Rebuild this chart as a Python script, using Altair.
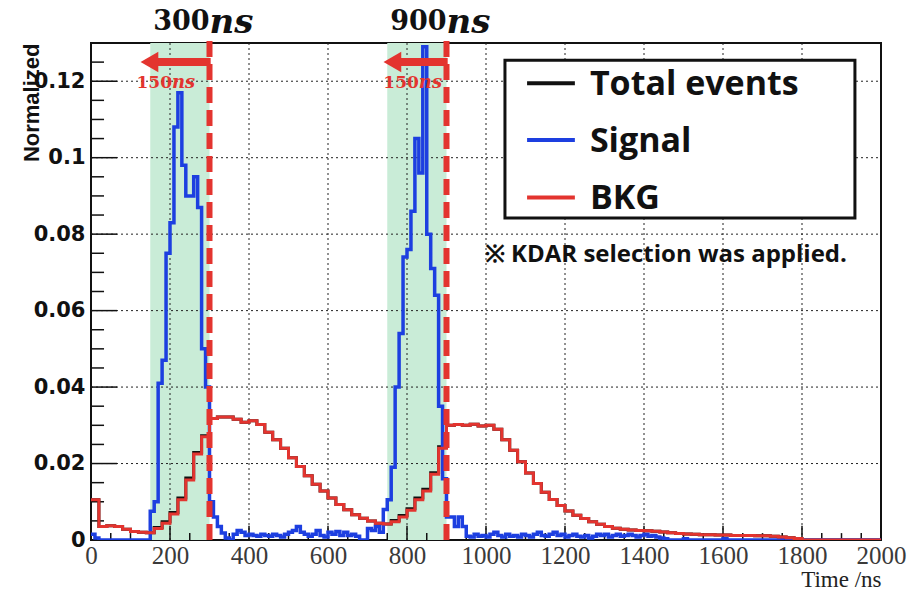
import altair as alt
import pandas as pd

# ---------------- data ----------------
SIGNAL_BIN = 10   # ns
signal_values = [
    0.0015, 0.0005, 0, 0, 0, 0, 0, 0, 0, 0,
    0, 0, 0, 0, 0, 0.0075, 0.0100, 0.0410, 0.0470, 0.0750,
    0.0830, 0.1080, 0.1170, 0.0980, 0.0900, 0.0900, 0.0950, 0.0870, 0.0500, 0.0400,
    0.0100, 0.0060, 0.0035, 0.0018, 0.0005, 0.0000, 0.0015, 0.0025, 0.0020, 0.0012,
    0.0015, 0.0012, 0.0010, 0.0015, 0.0012, 0.0010, 0.0015, 0.0012, 0.0008, 0.0015,
    0.0020, 0.0025, 0.0035, 0.0020, 0.0015, 0.0010, 0.0015, 0.0025, 0.0012, 0.0008,
    0.0020, 0.0015, 0.0022, 0.0012, 0.0020, 0.0012, 0.0015, 0.0010, 0.0000, 0.0000,
    0.0030, 0.0025, 0.0035, 0.0020, 0.0080, 0.0105, 0.0190, 0.0400, 0.0540, 0.0740,
    0.0760, 0.0860, 0.1050, 0.0960, 0.1290, 0.0800, 0.0710, 0.0640, 0.0350, 0.0160,
    0.0060, 0.0060, 0.0035, 0.0060, 0.0035, 0.0010, 0.0008, 0.0015, 0.0010, 0.0012,
    0.0008, 0.0015, 0.0020, 0.0012, 0.0008, 0.0015, 0.0010, 0.0012, 0.0008, 0.0015,
    0.0012, 0.0008, 0.0015, 0.0020, 0.0012, 0.0010, 0.0015, 0.0020, 0.0012, 0.0015,
    0.0008, 0.0012, 0.0015, 0.0010, 0.0008, 0.0012, 0.0005, 0.0010, 0.0015, 0.0012,
    0.0015, 0.0008, 0.0012, 0.0015, 0.0010, 0.0012, 0.0015, 0.0012, 0.0008, 0.0012,
    0.0015, 0.0010, 0.0012, 0.0008, 0.0005, 0.0003, 0, 0, 0, 0,
    0.0003, 0, 0, 0, 0, 0, 0, 0, 0, 0,
    0.0003, 0, 0, 0, 0, 0, 0, 0, 0, 0,
    0, 0, 0, 0, 0, 0.0005, 0, 0, 0, 0,
    0, 0, 0, 0, 0, 0, 0, 0, 0, 0,
    0, 0, 0, 0, 0, 0, 0, 0, 0, 0,
]

BKG_BIN = 20   # ns
bkg_values = [
    0.0105, 0.0035, 0.0037, 0.0035, 0.0028, 0.0022, 0.0020, 0.0019, 0.0030, 0.0044,
    0.0068, 0.0105, 0.0157, 0.0225, 0.0270, 0.0318, 0.0322, 0.0322, 0.0316, 0.0308,
    0.0312, 0.0302, 0.0282, 0.0262, 0.0240, 0.0215, 0.0192, 0.0168, 0.0146, 0.0128,
    0.0110, 0.0093, 0.0079, 0.0066, 0.0057, 0.0050, 0.0044, 0.0042, 0.0048, 0.0060,
    0.0078, 0.0105, 0.0128, 0.0172, 0.0240, 0.0300, 0.0302, 0.0300, 0.0303, 0.0298,
    0.0300, 0.0290, 0.0262, 0.0235, 0.0205, 0.0175, 0.0148, 0.0125, 0.0106, 0.0090,
    0.0076, 0.0065, 0.0056, 0.0048, 0.0041, 0.0035, 0.0031, 0.0028, 0.0026, 0.0025,
    0.0024, 0.0023, 0.0021, 0.0019, 0.0017, 0.0016, 0.0015, 0.0014, 0.0014, 0.0013,
    0.0013, 0.0012, 0.0012, 0.0012, 0.0011, 0.0011, 0.0010, 0.0008, 0.0006, 0.0004,
    0, 0, 0, 0, 0, 0, 0, 0, 0, 0,
]

total_values = [
    0.0105, 0.0035, 0.0037, 0.0035, 0.0028, 0.0022, 0.0020, 0.0019, 0.0033, 0.0048,
    0.0072, 0.0110, 0.0162, 0.0229, 0.0273, 0.0318, 0.0322, 0.0322, 0.0316, 0.0308,
    0.0312, 0.0302, 0.0282, 0.0262, 0.0240, 0.0215, 0.0192, 0.0168, 0.0146, 0.0128,
    0.0110, 0.0093, 0.0079, 0.0066, 0.0057, 0.0050, 0.0044, 0.0042, 0.0051, 0.0064,
    0.0082, 0.0110, 0.0133, 0.0176, 0.0244, 0.0300, 0.0302, 0.0300, 0.0303, 0.0298,
    0.0300, 0.0290, 0.0262, 0.0235, 0.0205, 0.0175, 0.0148, 0.0125, 0.0106, 0.0090,
    0.0076, 0.0065, 0.0056, 0.0048, 0.0041, 0.0035, 0.0031, 0.0028, 0.0026, 0.0025,
    0.0024, 0.0023, 0.0021, 0.0019, 0.0017, 0.0016, 0.0015, 0.0014, 0.0014, 0.0013,
    0.0013, 0.0012, 0.0012, 0.0012, 0.0011, 0.0011, 0.0010, 0.0008, 0.0006, 0.0004,
    0, 0, 0, 0, 0, 0, 0, 0, 0, 0,
]

x_tick_labels = [0, 200, 400, 600, 800, 1000, 1200, 1400, 1600, 1800, 2000]
x_minor_ticks = [50, 100, 150, 250, 300, 350, 450, 500, 550, 650, 700, 750, 850, 900, 950,
                 1050, 1100, 1150, 1250, 1300, 1350, 1450, 1500, 1550, 1650, 1700, 1750,
                 1850, 1900, 1950]
y_tick_labels = [0, 0.02, 0.04, 0.06, 0.08, 0.1, 0.12]
y_minor_ticks = [0.005, 0.01, 0.015, 0.025, 0.03, 0.035, 0.045, 0.05, 0.055, 0.065, 0.07,
                 0.075, 0.085, 0.09, 0.095, 0.105, 0.11, 0.115, 0.125]

window_start = [150, 750]
window_end = [300, 900]
cut_times = [300, 900]
cut_labels = ["300", "900"]
arrow_start = [150, 765]
arrow_tip = [148, 763]
width_label_anchor = [205, 830]
legend_names = ["Total events", "Signal", "BKG"]
legend_colors = ["#111111", "#1d3fe0", "#e3342f"]

X_MAX = 2000
Y_MAX = 0.13

RED = "#e3342f"
BLUE = "#1d3fe0"
GREEN = "#c9ecd7"

# ---------------- helpers ----------------
xs = alt.Scale(domain=[0, X_MAX], nice=False, zero=False)
ys = alt.Scale(domain=[0, Y_MAX], nice=False, zero=False)

xaxis = alt.Axis(values=x_tick_labels, grid=False, ticks=False, domain=False, format="d",
                 labelFont="Liberation Serif", labelFontSize=25, labelColor="#3a3a3a",
                 labelPadding=3, labelFlush=False,
                 titleFont="Liberation Serif", titleFontSize=23, titleFontWeight="normal",
                 titleColor="#222222", titleAnchor="end", titlePadding=0)
yaxis = alt.Axis(values=y_tick_labels, grid=False, ticks=False, domain=False, format="~g",
                 labelFont="DejaVu Sans", labelFontSize=21, labelFontWeight="bold",
                 labelColor="#111111", labelPadding=6,
                 titleFont="Liberation Sans", titleFontSize=22, titleFontWeight="bold",
                 titleColor="#111111", titleX=-53, titleY=0, titleAlign="right",
                 titleAngle=270, titleBaseline="alphabetic")


def X(f):
    return alt.X(f, type="quantitative", scale=xs, axis=xaxis, title="Time /ns")


def Y(f):
    return alt.Y(f, type="quantitative", scale=ys, axis=yaxis, title="Normalized")


def hist_frame(values, binw):
    edges = [i * binw for i in range(len(values))] + [len(values) * binw]
    return pd.DataFrame({"t": edges, "v": list(values) + [values[-1]]})


# ---------------- layers ----------------
bands = alt.Chart(pd.DataFrame({"a": window_start, "b": window_end, "lo": 0, "hi": Y_MAX})).mark_rect(
    color=GREEN, opacity=1).encode(x=X("a"), x2="b", y=Y("lo"), y2="hi")

vgrid = alt.Chart(pd.DataFrame({"t": x_tick_labels[1:-1], "lo": 0, "hi": Y_MAX})).mark_rule(
    color="#222222", strokeWidth=1, strokeDash=[2, 3]).encode(x=X("t"), y=Y("lo"), y2="hi")
hgrid = alt.Chart(pd.DataFrame({"v": y_tick_labels[1:], "lo": 0, "hi": X_MAX})).mark_rule(
    color="#222222", strokeWidth=1, strokeDash=[2, 3]).encode(y=Y("v"), x=X("lo"), x2="hi")

xt_major = alt.Chart(pd.DataFrame({"t": x_tick_labels, "lo": 0, "hi": 0.0037})).mark_rule(
    color="#111111", strokeWidth=1.5).encode(x=X("t"), y=Y("lo"), y2="hi")
xt_minor = alt.Chart(pd.DataFrame({"t": x_minor_ticks, "lo": 0, "hi": 0.0018})).mark_rule(
    color="#111111", strokeWidth=1.5).encode(x=X("t"), y=Y("lo"), y2="hi")
yt_major = alt.Chart(pd.DataFrame({"v": y_tick_labels, "lo": 0, "hi": 66})).mark_rule(
    color="#111111", strokeWidth=1.5).encode(y=Y("v"), x=X("lo"), x2="hi")
yt_minor = alt.Chart(pd.DataFrame({"v": y_minor_ticks, "lo": 0, "hi": 33})).mark_rule(
    color="#111111", strokeWidth=1.5).encode(y=Y("v"), x=X("lo"), x2="hi")


def hist(values, binw, color, w):
    return alt.Chart(hist_frame(values, binw)).mark_line(
        interpolate="step-after", color=color, strokeWidth=w, clip=True
    ).encode(x=X("t"), y=Y("v"))


h_total = hist(total_values, BKG_BIN, "#111111", 3)
h_sig = hist(signal_values, SIGNAL_BIN, BLUE, 3.5)
h_bkg = hist(bkg_values, BKG_BIN, RED, 3)

cuts = alt.Chart(pd.DataFrame({"t": cut_times, "lo": 0, "hi": 0.1318})).mark_rule(
    color=RED, strokeWidth=6, strokeDash=[16, 7]).encode(x=X("t"), y=Y("lo"), y2="hi")

arrow_shaft = alt.Chart(pd.DataFrame({"a": arrow_start, "b": [t + 3 for t in cut_times], "v": 0.125})).mark_rule(
    color=RED, strokeWidth=8).encode(x=X("a"), x2="b", y=Y("v"))
arrow_head = alt.Chart(pd.DataFrame({"t": arrow_tip, "v": 0.125})).mark_point(
    shape="triangle-left", filled=True, size=420, color=RED, opacity=1).encode(x=X("t"), y=Y("v"))

w_num = alt.Chart(pd.DataFrame({"t": width_label_anchor, "v": 0.1195, "s": "150"})).mark_text(
    font="DejaVu Serif", fontSize=17, fontWeight="bold", color=RED, align="right",
    baseline="middle").encode(x=X("t"), y=Y("v"), text="s")
w_unit = alt.Chart(pd.DataFrame({"t": width_label_anchor, "v": 0.1195, "s": "ns"})).mark_text(
    font="DejaVu Serif", fontSize=18, fontWeight="bold", fontStyle="italic", color=RED,
    align="left", baseline="middle").encode(x=X("t"), y=Y("v"), text="s")

c_num = alt.Chart(pd.DataFrame({"t": cut_times, "v": 0.1354, "s": cut_labels})).mark_text(
    font="DejaVu Serif", fontSize=27, fontWeight="bold", color="#111111", align="right",
    baseline="middle").encode(x=X("t"), y=Y("v"), text="s")
c_unit = alt.Chart(pd.DataFrame({"t": cut_times, "v": 0.1354, "s": "ns"})).mark_text(
    font="DejaVu Serif", fontSize=34, fontWeight="bold", fontStyle="italic", color="#111111",
    align="left", baseline="middle", dy=1).encode(x=X("t"), y=Y("v"), text="s")

leg_box = alt.Chart(pd.DataFrame({"a": [1048], "b": [1934], "lo": [0.0842], "hi": [0.1255]})).mark_rect(
    fill="white", stroke="#111111", strokeWidth=3).encode(x=X("a"), x2="b", y=Y("lo"), y2="hi")
leg_df = pd.DataFrame({"name": legend_names, "color": legend_colors,
                       "v": [0.1195, 0.1046, 0.0896], "a": 1104, "b": 1225, "tx": 1263})
leg_lines = alt.Chart(leg_df).mark_rule(strokeWidth=4).encode(
    x=X("a"), x2="b", y=Y("v"), color=alt.Color("color:N", scale=None))
leg_text = alt.Chart(leg_df).mark_text(
    font="Open Sans", fontSize=34, fontWeight="bold", color="#111111", align="left",
    baseline="middle", dy=2).encode(x=X("tx"), y=Y("v"), text="name")

note = alt.Chart(pd.DataFrame({"t": [997], "v": [0.0745], "s": ["※ KDAR selection was applied."]})).mark_text(
    font="Open Sans", fontSize=24, fontWeight="bold", color="#111111", align="left",
    baseline="middle").encode(x=X("t"), y=Y("v"), text="s")

chart = alt.layer(
    bands, vgrid, hgrid, xt_major, xt_minor, yt_major, yt_minor,
    h_total, h_sig, h_bkg, cuts, arrow_shaft, arrow_head, w_num, w_unit, c_num, c_unit,
    leg_box, leg_lines, leg_text, note
).properties(
    width=790, height=497,
    autosize=alt.AutoSizeParams(type="none"),
    padding={"left": 91, "top": 43, "right": 34, "bottom": 51},
    background="white",
).configure_view(stroke="#111111", strokeWidth=2)

chart.save("out.html", embed_options={"renderer": "svg", "actions": False})
